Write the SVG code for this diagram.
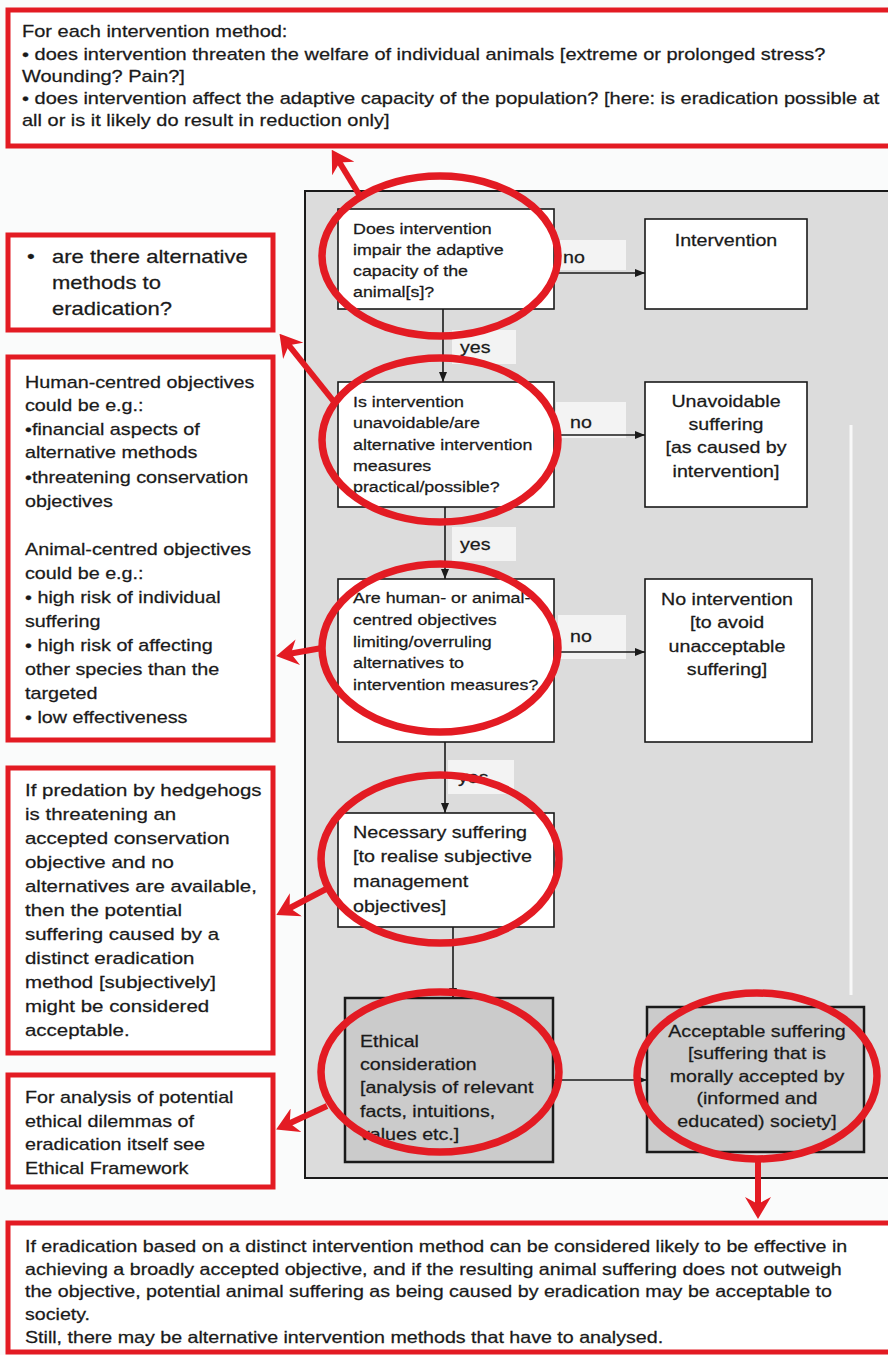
<svg xmlns="http://www.w3.org/2000/svg" width="888" height="1355" viewBox="0 0 888 1355">
<defs>
<style>
text{font-family:"Liberation Sans",Arial,sans-serif;fill:#1a1a1a;stroke:#1a1a1a;stroke-width:0.25}
.frame{fill:#dcdcdc;stroke:#1a1a1a;stroke-width:2}
.box{fill:#fff;stroke:#1a1a1a;stroke-width:1.6}
.gbox{fill:#cbcbcb;stroke:#1a1a1a;stroke-width:2.5}
.note{fill:#fff;stroke:#e31b23;stroke-width:5}
.ring{fill:none;stroke:#e31b23;stroke-width:7.5}
.rarrow{fill:none;stroke:#e31b23;stroke-width:6;marker-end:url(#ra)}
.conn{fill:none;stroke:#1a1a1a;stroke-width:1.6;marker-end:url(#ba)}
.patch{fill:#f3f3f3}
.f15{font-size:15px}
.f165{font-size:16.5px}
.f166{font-size:16.6px}
.f168{font-size:16.8px}
.f172{font-size:17.2px}
.f185{font-size:18.5px}
.mid{text-anchor:middle}
</style>
<marker id="ba" viewBox="0 0 10 8" refX="10" refY="4" markerWidth="10" markerHeight="8" markerUnits="userSpaceOnUse" orient="auto"><path d="M0,0 L10,4 L0,8 Z" fill="#1a1a1a"/></marker>
<marker id="ra" viewBox="0 0 22 26" refX="10" refY="13" markerWidth="22" markerHeight="26" markerUnits="userSpaceOnUse" orient="auto"><path d="M0,0 L22,13 L0,26 L7,13 Z" fill="#e31b23"/></marker>
</defs>
<rect x="0" y="0" width="888" height="1355" fill="#fafbfb"/>

<g id="panel">
<rect class="frame" x="305" y="191" width="600" height="987"/>
<rect class="patch" x="556" y="240" width="70" height="30"/>
<rect class="patch" x="452" y="330" width="64" height="34"/>
<rect class="patch" x="556" y="402" width="70" height="36"/>
<rect class="patch" x="452" y="527" width="64" height="34"/>
<rect class="patch" x="558" y="615" width="68" height="44"/>
<rect class="patch" x="448" y="760" width="66" height="34"/>
</g>

<g id="connectors">
<line class="conn" x1="554" y1="273" x2="645" y2="273"/>
<line class="conn" x1="554" y1="435" x2="645" y2="435"/>
<line class="conn" x1="554" y1="652" x2="645" y2="652"/>
<line class="conn" x1="553" y1="1080" x2="647" y2="1080"/>
<line class="conn" x1="443" y1="309" x2="443" y2="382"/>
<line class="conn" x1="445" y1="507" x2="445" y2="579"/>
<line class="conn" x1="445" y1="742" x2="445" y2="813"/>
<line class="conn" x1="453" y1="927" x2="453" y2="998"/>
<line x1="851" y1="425" x2="851" y2="995" stroke="#f8f8f8" stroke-width="3"/>
<text class="f165" transform="translate(563,263) scale(1.19,1)">no</text>
<text class="f165" transform="translate(460,353) scale(1.19,1)">yes</text>
<text class="f165" transform="translate(570,428) scale(1.19,1)">no</text>
<text class="f165" transform="translate(460,550) scale(1.19,1)">yes</text>
<text class="f165" transform="translate(570,642) scale(1.19,1)">no</text>
<text class="f165" transform="translate(458,783) scale(1.19,1)">yes</text>
</g>

<g id="q1">
<rect class="box" x="338" y="209" width="216" height="100"/>
<text class="f15" transform="translate(353,234) scale(1.19,1)"><tspan x="0" y="0">Does intervention</tspan><tspan x="0" y="21">impair the adaptive</tspan><tspan x="0" y="42">capacity of the</tspan><tspan x="0" y="63">animal[s]?</tspan></text>
</g>
<g id="intervention">
<rect class="box" x="645" y="219" width="162" height="90"/>
<text class="f165 mid" transform="translate(726,246) scale(1.19,1)">Intervention</text>
</g>
<g id="q2">
<rect class="box" x="338" y="382" width="216" height="125"/>
<text class="f15" transform="translate(353,407) scale(1.19,1)"><tspan x="0" y="0">Is intervention</tspan><tspan x="0" y="21">unavoidable/are</tspan><tspan x="0" y="43">alternative intervention</tspan><tspan x="0" y="64">measures</tspan><tspan x="0" y="85">practical/possible?</tspan></text>
</g>
<g id="unavoidable">
<rect class="box" x="645" y="382" width="162" height="125"/>
<text class="f165 mid" transform="translate(726,407) scale(1.19,1)"><tspan x="0" y="0">Unavoidable</tspan><tspan x="0" y="23">suffering</tspan><tspan x="0" y="46">[as caused by</tspan><tspan x="0" y="70">intervention]</tspan></text>
</g>
<g id="q3">
<rect class="box" x="338" y="579" width="216" height="163"/>
<text class="f15" transform="translate(353,603) scale(1.19,1)"><tspan x="0" y="0">Are human- or animal-</tspan><tspan x="0" y="22">centred objectives</tspan><tspan x="0" y="44">limiting/overruling</tspan><tspan x="0" y="65">alternatives to</tspan><tspan x="0" y="87">intervention measures?</tspan></text>
</g>
<g id="nointervention">
<rect class="box" x="645" y="579" width="167" height="163"/>
<text class="f165 mid" transform="translate(727,605) scale(1.19,1)"><tspan x="0" y="0">No intervention</tspan><tspan x="0" y="23">[to avoid</tspan><tspan x="0" y="47">unacceptable</tspan><tspan x="0" y="70">suffering]</tspan></text>
</g>
<g id="necessary">
<rect class="box" x="338" y="813" width="216" height="114"/>
<text class="f166" transform="translate(353,838) scale(1.19,1)"><tspan x="0" y="0">Necessary suffering</tspan><tspan x="0" y="24.5">[to realise subjective</tspan><tspan x="0" y="49">management</tspan><tspan x="0" y="74">objectives]</tspan></text>
</g>
<g id="ethical">
<rect class="gbox" x="345" y="998" width="208" height="164"/>
<text class="f165" transform="translate(360,1047) scale(1.19,1)"><tspan x="0" y="0">Ethical</tspan><tspan x="0" y="23">consideration</tspan><tspan x="0" y="46">[analysis of relevant</tspan><tspan x="0" y="70">facts, intuitions,</tspan><tspan x="0" y="93">values etc.]</tspan></text>
</g>
<g id="acceptable">
<rect class="gbox" x="647" y="1007" width="217" height="145"/>
<text class="f165 mid" transform="translate(757,1037) scale(1.19,1)"><tspan x="0" y="0">Acceptable suffering</tspan><tspan x="0" y="22">[suffering that is</tspan><tspan x="0" y="45">morally accepted by</tspan><tspan x="0" y="67">(informed and</tspan><tspan x="0" y="90">educated) society]</tspan></text>
</g>

<g id="note-top">
<rect class="note" x="8" y="10" width="895" height="136"/>
<text class="f168" transform="translate(22,37) scale(1.19,1)"><tspan x="0" y="0">For each intervention method:</tspan><tspan x="0" y="23">• does intervention threaten the welfare of individual animals [extreme or prolonged stress?</tspan><tspan x="0" y="45">Wounding? Pain?]</tspan><tspan x="0" y="67">• does intervention affect the adaptive capacity of the population? [here: is eradication possible at</tspan><tspan x="0" y="89">all or is it likely do result in reduction only]</tspan></text>
</g>
<g id="note-alternatives">
<rect class="note" x="8" y="235" width="265" height="95"/>
<text class="f185" transform="translate(27,263) scale(1.19,1)">•</text>
<text class="f185" transform="translate(52,263) scale(1.19,1)"><tspan x="0" y="0">are there alternative</tspan><tspan x="0" y="26">methods to</tspan><tspan x="0" y="52">eradication?</tspan></text>
</g>
<g id="note-objectives">
<rect class="note" x="8" y="357" width="265" height="383"/>
<text class="f166" transform="translate(25,388) scale(1.19,1)"><tspan x="0" y="0">Human-centred objectives</tspan><tspan x="0" y="23.5">could be e.g.:</tspan><tspan x="0" y="47">•financial aspects of</tspan><tspan x="0" y="70.5">alternative methods</tspan><tspan x="0" y="95">•threatening conservation</tspan><tspan x="0" y="119">objectives</tspan><tspan x="0" y="167">Animal-centred objectives</tspan><tspan x="0" y="191">could be e.g.:</tspan><tspan x="0" y="215">• high risk of individual</tspan><tspan x="0" y="239">suffering</tspan><tspan x="0" y="263">• high risk of affecting</tspan><tspan x="0" y="287">other species than the</tspan><tspan x="0" y="311">targeted</tspan><tspan x="0" y="335">• low effectiveness</tspan></text>
</g>
<g id="note-predation">
<rect class="note" x="8" y="768" width="265" height="285"/>
<text class="f172" transform="translate(25,796) scale(1.19,1)"><tspan x="0" y="0">If predation by hedgehogs</tspan><tspan x="0" y="24">is threatening an</tspan><tspan x="0" y="48">accepted conservation</tspan><tspan x="0" y="72">objective and no</tspan><tspan x="0" y="96">alternatives are available,</tspan><tspan x="0" y="120">then the potential</tspan><tspan x="0" y="144">suffering caused by a</tspan><tspan x="0" y="168">distinct eradication</tspan><tspan x="0" y="192">method [subjectively]</tspan><tspan x="0" y="216">might be considered</tspan><tspan x="0" y="240">acceptable.</tspan></text>
</g>
<g id="note-framework">
<rect class="note" x="8" y="1075" width="265" height="112"/>
<text class="f166" transform="translate(25,1103) scale(1.19,1)"><tspan x="0" y="0">For analysis of potential</tspan><tspan x="0" y="23.7">ethical dilemmas of</tspan><tspan x="0" y="47.4">eradication itself see</tspan><tspan x="0" y="71">Ethical Framework</tspan></text>
</g>
<g id="note-bottom">
<rect class="note" x="8" y="1223" width="895" height="129"/>
<text class="f165" transform="translate(25,1252) scale(1.19,1)"><tspan x="0" y="0">If eradication based on a distinct intervention method can be considered likely to be effective in</tspan><tspan x="0" y="23">achieving a broadly accepted objective, and if the resulting animal suffering does not outweigh</tspan><tspan x="0" y="45">the objective, potential animal suffering as being caused by eradication may be acceptable to</tspan><tspan x="0" y="68">society.</tspan><tspan x="0" y="91">Still, there may be alternative intervention methods that have to analysed.</tspan></text>
</g>

<g id="highlights">
<ellipse class="ring" cx="440" cy="256" rx="118" ry="80"/>
<ellipse class="ring" cx="440" cy="440" rx="118" ry="82"/>
<ellipse class="ring" cx="440" cy="648" rx="118" ry="84"/>
<ellipse class="ring" cx="440" cy="859" rx="119" ry="84"/>
<ellipse class="ring" cx="440" cy="1072" rx="119" ry="80"/>
<ellipse class="ring" cx="757" cy="1076" rx="120" ry="83"/>
<line class="rarrow" x1="360" y1="196" x2="338" y2="160"/>
<line class="rarrow" x1="335" y1="403" x2="287" y2="343"/>
<line class="rarrow" x1="322" y1="648" x2="288" y2="654"/>
<line class="rarrow" x1="328" y1="888" x2="287" y2="909.5"/>
<line class="rarrow" x1="327" y1="1106" x2="287" y2="1124.5"/>
<line class="rarrow" x1="758" y1="1158" x2="758" y2="1207"/>
</g>
</svg>
